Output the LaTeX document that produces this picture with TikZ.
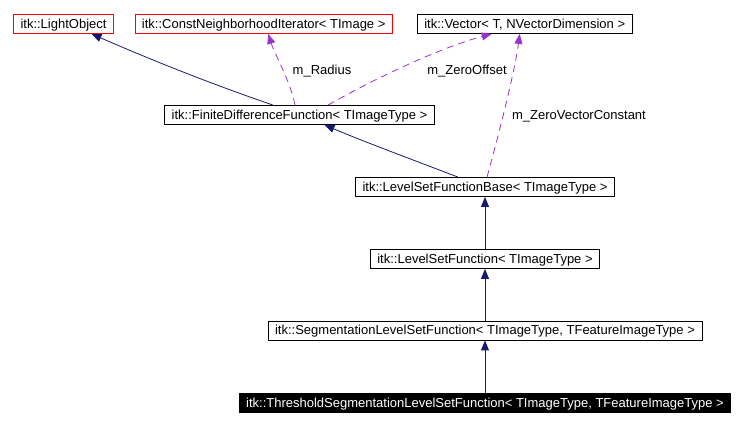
\documentclass[tikz,border=0pt]{standalone}
\usepackage{fontspec}
\setmainfont{Liberation Sans}
\usetikzlibrary{calc,positioning,arrows.meta}
\definecolor{inherit}{HTML}{191970}
\definecolor{usage}{HTML}{9A32CD}

\begin{document}
\begin{tikzpicture}[x=1pt,y=-1pt,font=\fontsize{13}{15}\selectfont,
  cls/.style={draw=black,line width=0.8pt,inner xsep=7pt,inner ysep=0pt,minimum height=19pt,text height=9.5pt,text depth=0.5pt},
  undoc/.style={cls,draw=red},
  this/.style={cls,fill=black,text=white},
  inh/.style={draw=inherit,line width=0.8pt,-{Triangle[length=10pt,width=8pt]}},
  use/.style={draw=usage,line width=0.8pt,dash pattern=on 7pt off 5pt,-{Triangle[length=10pt,width=8pt]}},
  lbl/.style={inner sep=1pt}]
  \useasboundingbox (0,0) rectangle (744,427);
  \node[undoc] (light) at (63.5,24) {itk::LightObject};
  \node[undoc] (iter) at (263.7,24) {itk::ConstNeighborhoodIterator< TImage >};
  \node[cls] (vec) at (524.7,24) {itk::Vector< T, NVectorDimension >};
  \node[cls] (fdf) at (299.5,115) {itk::FiniteDifferenceFunction< TImageType >};
  \node[cls] (lsfb) at (485,187) {itk::LevelSetFunctionBase< TImageType >};
  \node[cls] (lsf) at (485,259) {itk::LevelSetFunction< TImageType >};
  \node[cls] (slsf) at (485,330.5) {itk::SegmentationLevelSetFunction< TImageType, TFeatureImageType >};
  \node[this] (tslsf) at (485,403) {itk::ThresholdSegmentationLevelSetFunction< TImageType, TFeatureImageType >};
  \draw[inh] ([xshift=-26.5pt]fdf.north) .. controls (200,80) and (140,55) .. ([xshift=28pt]light.south);
  \draw[use] ([xshift=-4.5pt]fdf.north) .. controls (290,80) and (275,55) .. ([xshift=4.5pt]iter.south);
  \draw[use] ([xshift=28.5pt]fdf.north) .. controls (390,70) and (450,45) .. ([xshift=-33pt]vec.south);
  \draw[inh] ([xshift=-27pt]lsfb.north) .. controls (400,155) and (360,140) .. ([xshift=25pt]fdf.south);
  \draw[use] ([xshift=2pt]lsfb.north) .. controls (500,130) and (515,70) .. ([xshift=-5pt]vec.south);
  \draw[inh] (lsf) -- (lsfb);
  \draw[inh] (slsf) -- (lsf);
  \draw[inh] (tslsf) -- (slsf);
  \node[lbl] (radius) at (322,71) {m\_Radius};
  \node[lbl] (zoff) at (467,71) {m\_ZeroOffset};
  \node[lbl] (zvc) at (579,116) {m\_ZeroVectorConstant};
\end{tikzpicture}
\end{document}
